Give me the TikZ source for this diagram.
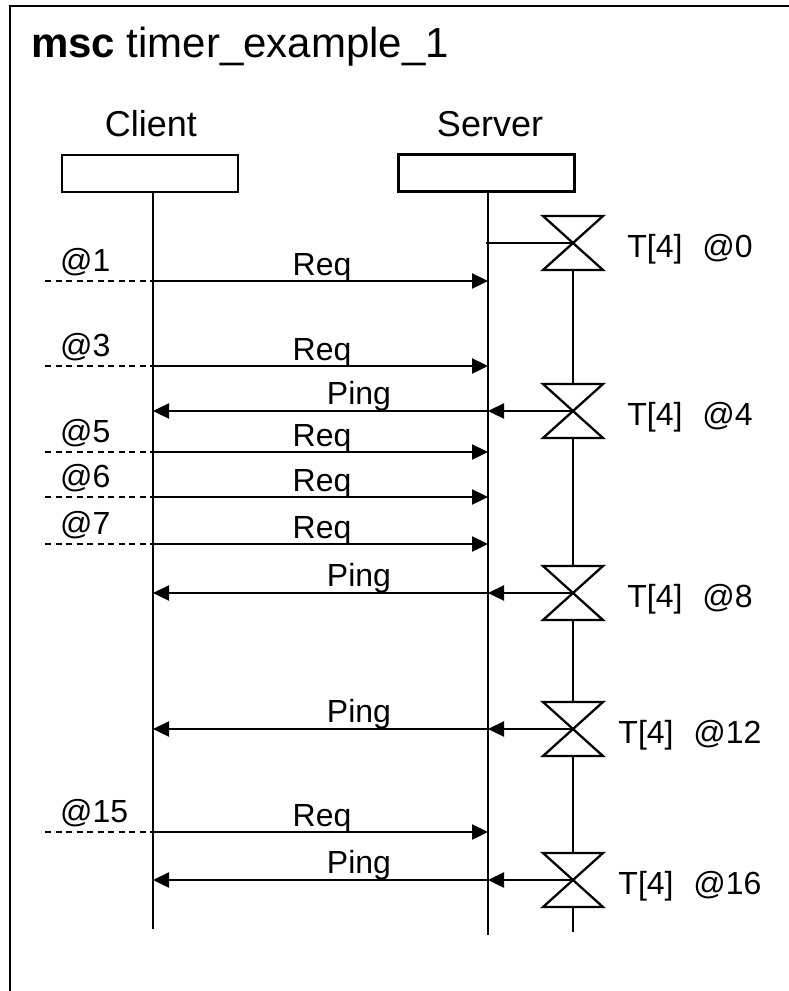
\documentclass[tikz,border=0pt]{standalone}
\usepackage{fontspec}
\setmainfont{Liberation Sans}
\usetikzlibrary{arrows.meta}

% Timer symbol (hourglass) centred on the server's timer column
\newcommand\tmrglass[2]{%
  \coordinate (#1) at (573,#2);
  \coordinate (#1top) at (573,#2-27);
  \coordinate (#1bot) at (573,#2+27);
  \draw[tline] (#1) ++(-30,-27) -- ++(60,0) -- ++(-60,54) -- ++(60,0) -- cycle;
  \node[lbl, anchor=base] (#1lbl) at (690,#2+14) {T[4]\hspace{0.62em}@\tmrtime};%
}
% Request from the environment via the client to the server
\newcommand\reqmsg[3]{%
  \coordinate (e#1) at (45,#2);
  \coordinate (c#1) at (153,#2);
  \coordinate (s#1) at (488,#2);
  \draw[envline] (e#1) -- (c#1);
  \node[lbl, anchor=base west] (at#1) at (60,#2-10) {@#3};
  \draw[msg] (c#1) -- (s#1);
  \node[lbl, anchor=base] (req#1) at (322,#2-6) {Req};%
}
% Timeout at the server followed by a Ping to the client
\newcommand\pingmsg[2]{%
  \coordinate (c#1) at (153,#2);
  \coordinate (s#1) at (488,#2);
  \draw[msg] (#1) -- (s#1);
  \draw[msg] (s#1) -- (c#1);
  \node[lbl, anchor=base] (ping#1) at (359,#2-7) {Ping};%
}

\begin{document}
\begin{tikzpicture}[x=1pt,y=-1pt,
  frame/.style={line width=2.8pt},
  life/.style={line width=2.6pt},
  tline/.style={line width=2.3pt},
  envline/.style={line width=2.4pt, dash pattern=on 6pt off 4.5pt},
  msg/.style={line width=2.4pt, -{Triangle[length=16pt,width=15pt]}},
  lbl/.style={font=\fontsize{32}{38}\selectfont, inner sep=0pt},
  headbox/.style={draw, line width=2.4pt, minimum width=176pt, minimum height=37pt, inner sep=0pt},
  iname/.style={font=\fontsize{36}{43}\selectfont, inner sep=0pt, anchor=base}]
\useasboundingbox (0,0) rectangle (789,991);
\clip (0,0) rectangle (789,991);

% outer frame (continues past the right and bottom edges)
\draw[frame] (10,1010) -- (10,6) -- (810,6);
\node[anchor=base west, inner sep=0pt, font=\fontsize{42}{50}\selectfont] (title) at (31,57)
  {\textbf{msc} timer\_example\_1};

% instances
\node[iname] (cname) at (151,136) {Client};
\node[iname] (sname) at (490,136) {Server};
\node[headbox] (cbox) at (150,173.5) {};
\node[headbox] (sbox) at (486.5,173) {};
\coordinate (ctop) at (153,192);
\coordinate (cbot) at (153,929);
\coordinate (stop) at (488,191);
\coordinate (sbot) at (488,935);
\draw[life] (ctop) -- (cbot);
\draw[life] (stop) -- (sbot);

% timers
\def\tmrtime{0}\tmrglass{t0}{243}
\def\tmrtime{4}\tmrglass{t4}{411}
\def\tmrtime{8}\tmrglass{t8}{593}
\def\tmrtime{12}\tmrglass{t12}{729}
\def\tmrtime{16}\tmrglass{t16}{880}
\coordinate (tend) at (573,932);
\draw[tline] (t0bot) -- (t4top);
\draw[tline] (t4bot) -- (t8top);
\draw[tline] (t8bot) -- (t12top);
\draw[tline] (t12bot) -- (t16top);
\draw[tline] (t16bot) -- (tend);

% timer set by the server
\coordinate (sset) at (486,243);
\draw[tline] (sset) -- (t0);

% messages
\reqmsg{r1}{281}{1}
\reqmsg{r3}{366}{3}
\pingmsg{t4}{411}
\reqmsg{r5}{452}{5}
\reqmsg{r6}{497}{6}
\reqmsg{r7}{544}{7}
\pingmsg{t8}{593}
\pingmsg{t12}{729}
\reqmsg{r15}{832}{15}
\pingmsg{t16}{880}
\end{tikzpicture}
\end{document}
